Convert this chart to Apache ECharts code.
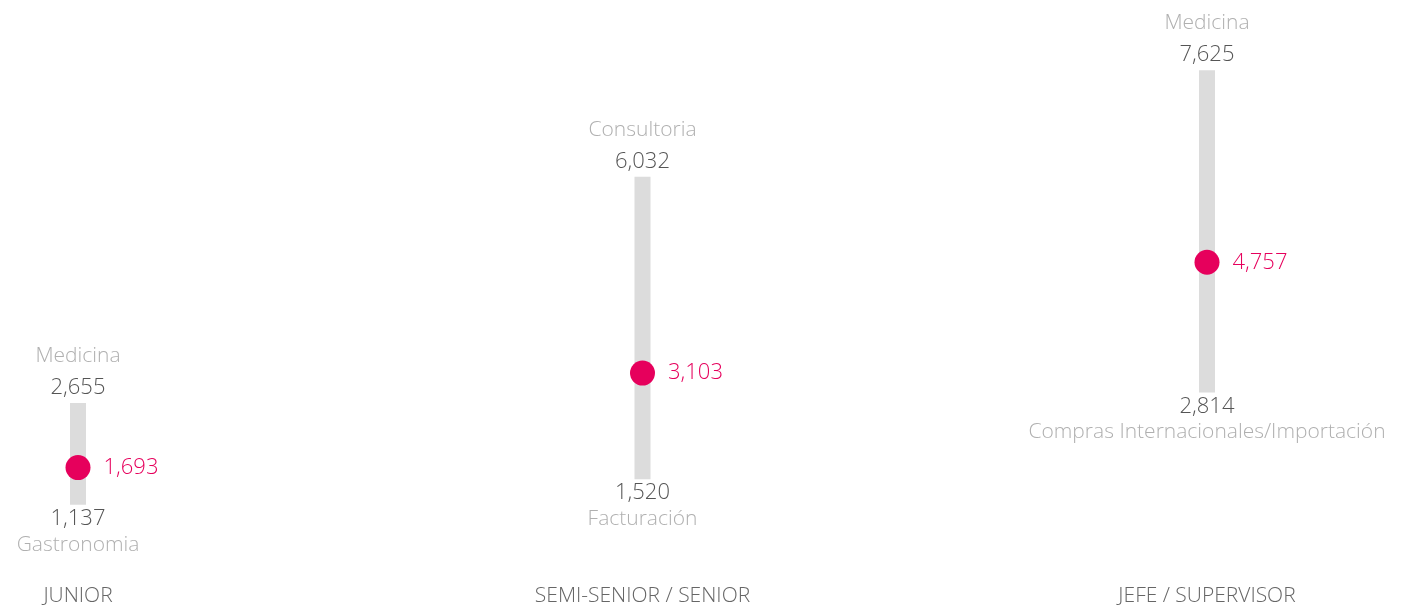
<!DOCTYPE html>
<html>
<head>
<meta charset="utf-8">
<script src="https://cdn.jsdelivr.net/npm/echarts@6/dist/echarts.min.js"></script>
<style>
  html, body { margin: 0; padding: 0; background: #fff; }
  #main { width: 1407px; height: 607px; }
</style>
</head>
<body>
<div id="main"></div>
<script>
// datos por nivel
var categories = ['JUNIOR', 'SEMI-SENIOR / SENIOR', 'JEFE / SUPERVISOR'];
var minVals = [1137, 1520, 2814];
var maxVals = [2655, 6032, 7625];
var avgVals = [1693, 3103, 4757];
var minNames = ['Gastronomia', 'Facturación', 'Compras Internacionales/Importación'];
var maxNames = ['Medicina', 'Consultoria', 'Medicina'];

var fontFam = '"Open Sans", sans-serif';
var pink = '#e6005c';

function fmt(v) {
  return v.toLocaleString('en-US');
}

var rangeData = [];
for (var i = 0; i < categories.length; i++) {
  rangeData.push([i, minVals[i], maxVals[i]]);
}

var myChart = echarts.init(document.getElementById('main'));
var option = {
  animation: false,
  grid: { left: 78, right: 200, top: 45, bottom: 22 },
  xAxis: {
    type: 'category',
    data: categories,
    boundaryGap: false,
    axisLine: { show: false },
    axisTick: { show: false },
    splitLine: { show: false },
    axisLabel: {
      margin: 5,
      color: '#666',
      fontSize: 21,
      fontWeight: 300,
      fontFamily: fontFam,
      interval: 0
    }
  },
  yAxis: {
    type: 'value',
    min: 0,
    max: 8000,
    show: false
  },
  series: [
    {
      type: 'custom',
      data: rangeData,
      renderItem: function (params, api) {
        var idx = api.value(0);
        var lo = api.coord([idx, api.value(1)]);
        var hi = api.coord([idx, api.value(2)]);
        var w = 16;
        var x = lo[0];
        return {
          type: 'group',
          children: [
            {
              type: 'rect',
              shape: { x: x - w / 2, y: hi[1], width: w, height: lo[1] - hi[1] },
              style: { fill: '#dcdcdc' }
            },
            {
              type: 'text',
              style: { text: fmt(api.value(2)), x: x, y: hi[1] - 15, align: 'center', verticalAlign: 'middle',
                fill: '#555', fontSize: 22, fontWeight: 300, fontFamily: fontFam }
            },
            {
              type: 'text',
              style: { text: maxNames[idx], x: x, y: hi[1] - 47, align: 'center', verticalAlign: 'middle',
                fill: '#b0b0b0', fontSize: 21, fontWeight: 300, fontFamily: fontFam }
            },
            {
              type: 'text',
              style: { text: fmt(api.value(1)), x: x, y: lo[1] + 14, align: 'center', verticalAlign: 'middle',
                fill: '#555', fontSize: 22, fontWeight: 300, fontFamily: fontFam }
            },
            {
              type: 'text',
              style: { text: minNames[idx], x: x, y: lo[1] + 40, align: 'center', verticalAlign: 'middle',
                fill: '#b0b0b0', fontSize: 21, fontWeight: 300, fontFamily: fontFam }
            }
          ]
        };
      }
    },
    {
      type: 'scatter',
      data: avgVals,
      symbolSize: 25,
      itemStyle: { color: pink, opacity: 1 },
      label: {
        show: true,
        position: 'right',
        distance: 13,
        color: pink,
        fontSize: 22,
        fontWeight: 300,
        fontFamily: fontFam,
        formatter: function (p) { return fmt(p.value); }
      },
      z: 5
    }
  ]
};
myChart.setOption(option);
</script>
</body>
</html>
